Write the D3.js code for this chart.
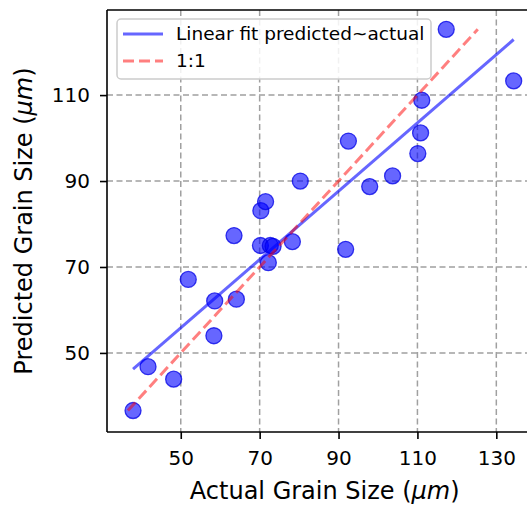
<!DOCTYPE html>
<html>
<head>
<meta charset="utf-8">
<script src="https://cdn.jsdelivr.net/npm/d3@7"></script>
<style>
  body { margin: 0; background: #fff; }
  svg { display: block; font-family: "DejaVu Sans", sans-serif; }
</style>
</head>
<body>
<div class="chart-wrapper"></div>
<script>
// data (µm)
const actual    = [37.9, 41.7, 48.2, 51.9, 58.6, 58.4, 64.1, 72.2, 63.5, 70.2, 72.7, 73.4, 78.3, 70.3, 71.5, 80.3, 91.8, 97.9, 103.7, 92.5, 110.1, 110.8, 111.1, 117.3, 134.4];
const predicted = [36.6, 46.8, 43.9, 67.1, 62.1, 54.0, 62.5, 71.0, 77.3, 75.0, 75.0, 74.8, 75.9, 83.1, 85.2, 90.0, 74.1, 88.7, 91.2, 99.3, 96.4, 101.2, 108.8, 125.3, 113.3];
const xTicks = [50, 70, 90, 110, 130];
const yTicks = [50, 70, 90, 110];
const legendLabels = ["Linear fit predicted~actual", "1:1"];

const W = 527, H = 506;
const margin = {top: 10, left: 107};
const plotW = 426, plotH = 422;

const svg = d3.select(".chart-wrapper").append("svg")
  .attr("width", W).attr("height", H);

const x = d3.scaleLinear().domain([31.3, 139.3]).range([0, plotW]);
const y = d3.scaleLinear().domain([31.6, 129.8]).range([plotH, 0]);

svg.append("defs").append("clipPath").attr("id", "clip")
  .append("rect").attr("width", plotW).attr("height", plotH);

const g = svg.append("g").attr("transform", `translate(${margin.left},${margin.top})`);

// grid
const grid = g.append("g").attr("clip-path", "url(#clip)");
grid.selectAll(".gx").data(xTicks).enter().append("line")
  .attr("x1", d => x(d)).attr("x2", d => x(d))
  .attr("y1", 0).attr("y2", plotH)
  .attr("stroke", "#a0a0a0").attr("stroke-width", 1.5).attr("stroke-dasharray", "6,3.5");
grid.selectAll(".gy").data(yTicks).enter().append("line")
  .attr("y1", d => y(d)).attr("y2", d => y(d))
  .attr("x1", 0).attr("x2", plotW)
  .attr("stroke", "#a0a0a0").attr("stroke-width", 1.5).attr("stroke-dasharray", "6,3.5");

// points
const pts = actual.map((a, i) => ({a: a, p: predicted[i]}));
const plotArea = g.append("g").attr("clip-path", "url(#clip)");
plotArea.selectAll("circle").data(pts).enter().append("circle")
  .attr("cx", d => x(d.a)).attr("cy", d => y(d.p)).attr("r", 8)
  .attr("fill", "rgba(0,0,255,0.6)")
  .attr("stroke", "rgba(0,0,230,0.75)").attr("stroke-width", 1.3);

// linear fit (least squares)
const mx = d3.mean(actual), my = d3.mean(predicted);
const slope = d3.sum(pts, d => (d.a - mx) * (d.p - my)) / d3.sum(pts, d => (d.a - mx) ** 2);
const intercept = my - slope * mx;
const [xmin, xmax] = d3.extent(actual);
plotArea.append("line")
  .attr("x1", x(xmin)).attr("y1", y(intercept + slope * xmin))
  .attr("x2", x(xmax)).attr("y2", y(intercept + slope * xmax))
  .attr("stroke", "rgba(0,0,255,0.6)").attr("stroke-width", 3);

// 1:1 line
const [pmin, pmax] = d3.extent(predicted);
plotArea.append("line")
  .attr("x1", x(pmin)).attr("y1", y(pmin))
  .attr("x2", x(pmax)).attr("y2", y(pmax))
  .attr("stroke", "rgba(255,0,0,0.5)").attr("stroke-width", 3)
  .attr("stroke-dasharray", "11,5");

// spines
g.append("line").attr("x1", 0).attr("x2", 0).attr("y1", 0).attr("y2", plotH)
  .attr("stroke", "#000").attr("stroke-width", 1.6);
g.append("line").attr("x1", 0).attr("x2", plotW + 10).attr("y1", plotH).attr("y2", plotH)
  .attr("stroke", "#000").attr("stroke-width", 1.6);
g.append("line").attr("x1", 0).attr("x2", plotW + 10).attr("y1", 0).attr("y2", 0)
  .attr("stroke", "#000").attr("stroke-width", 1.6);

// axes
const xAxis = g.append("g").attr("transform", `translate(0,${plotH})`)
  .call(d3.axisBottom(x).tickValues(xTicks).tickSize(7).tickPadding(12));
const yAxis = g.append("g")
  .call(d3.axisLeft(y).tickValues(yTicks).tickSize(7).tickPadding(10));
[xAxis, yAxis].forEach(a => {
  a.select(".domain").remove();
  a.selectAll(".tick line").attr("stroke", "#000").attr("stroke-width", 1.6);
  a.selectAll(".tick text").attr("fill", "#000")
    .style("font-size", "20px").style("font-family", "DejaVu Sans");
});

// axis labels
const xl = svg.append("text").attr("x", margin.left + x(86.5)).attr("y", 499)
  .attr("text-anchor", "middle").style("font-size", "24px");
xl.append("tspan").text("Actual Grain Size (");
xl.append("tspan").style("font-style", "italic").text("µm");
xl.append("tspan").text(")");

const yl = svg.append("text")
  .attr("transform", `translate(32,${margin.top + plotH / 2}) rotate(-90)`)
  .attr("text-anchor", "middle").style("font-size", "24px");
yl.append("tspan").text("Predicted Grain Size (");
yl.append("tspan").style("font-style", "italic").text("µm");
yl.append("tspan").text(")");

// legend
const lg = svg.append("g").attr("transform", "translate(117,19)");
lg.append("rect").attr("width", 314).attr("height", 60).attr("rx", 4)
  .attr("fill", "rgba(255,255,255,0.85)").attr("stroke", "#cccccc").attr("stroke-width", 1.5);
lg.append("line").attr("x1", 6).attr("x2", 46).attr("y1", 15).attr("y2", 15)
  .attr("stroke", "rgba(0,0,255,0.6)").attr("stroke-width", 3);
lg.append("line").attr("x1", 6).attr("x2", 46).attr("y1", 42).attr("y2", 42)
  .attr("stroke", "rgba(255,0,0,0.5)").attr("stroke-width", 3).attr("stroke-dasharray", "11,5");
lg.selectAll(".lt").data(legendLabels).enter().append("text")
  .attr("x", 59).attr("y", (d, i) => 15 + i * 27).attr("dy", "0.35em")
  .style("font-size", "18.5px").attr("fill", "#000").text(d => d);
</script>
</body>
</html>
